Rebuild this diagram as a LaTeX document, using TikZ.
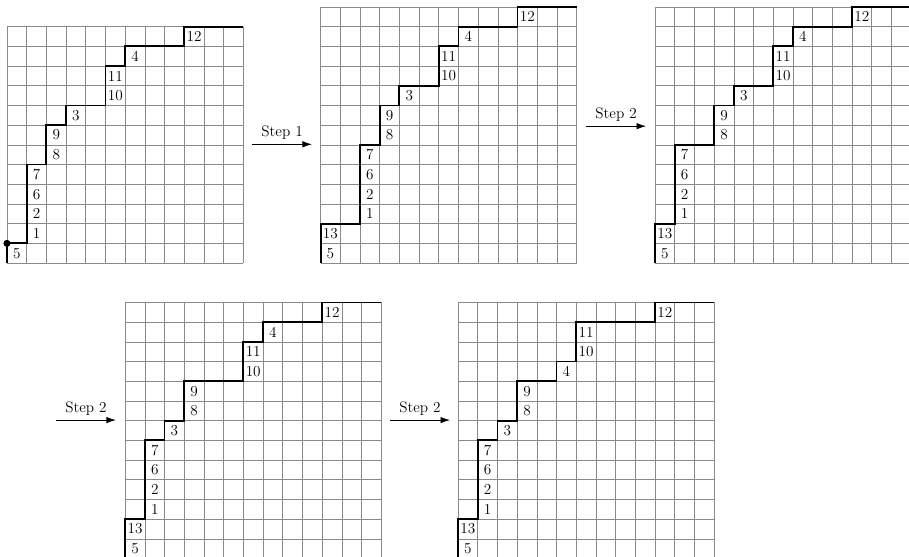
\documentclass[tikz,border=0pt]{standalone}
\usepackage{tikz}
\usetikzlibrary{arrows.meta}
\definecolor{GridGray}{HTML}{8A8A8A}
\definecolor{PathInk}{HTML}{000000}
\tikzset{
  gridline/.style={GridGray,line width=0.5pt},
  stair/.style={PathInk,line width=1.3pt},
  cellnum/.style={inner sep=0pt,font=\fontsize{11}{13}\selectfont},
  startdot/.style={circle,fill=PathInk,inner sep=0pt,minimum size=1.8mm},
  stepflow/.style={-{Latex[length=2.4mm,width=1.6mm]},line width=0.5pt},
  steplabel/.style={above,font=\fontsize{11}{13}\selectfont},
}

\begin{document}
\begin{tikzpicture}[x=.5cm,y=.5cm]
    \useasboundingbox (-0.355,-14.87) rectangle (45.79,13.355);
    % initial path
    \begin{scope}
      \draw[gridline,step=.5cm] (0,0) grid (12,12);
      \draw[stair] (0,0) |- (1,1) |- (2,5) |- (3,7) |- (5,8) |- (6,10) |- (9,11) |- (12,12);
      \node[startdot] (g1start) at (0,1) {};
      \foreach \cx/\cy/\t in {0/0/5,1/1/1,1/2/2,1/3/6,1/4/7,2/5/8,2/6/9,3/7/3,5/8/10,5/9/11,6/10/4,9/11/12}
        \node[cellnum] (g1n\t) at (\cx+.5,\cy+.5) {\t};
    \end{scope}
    % after step 1
    \begin{scope}[shift={(15.92,0)}]
      \draw[gridline,step=.5cm] (0,0) grid (13,13);
      \draw[stair] (0,0) |- (2,2) |- (3,6) |- (4,8) |- (6,9) |- (7,11) |- (10,12) |- (13,13);
      \foreach \cx/\cy/\t in {0/0/5,0/1/13,2/2/1,2/3/2,2/4/6,2/5/7,3/6/8,3/7/9,4/8/3,6/9/10,6/10/11,7/11/4,10/12/12}
        \node[cellnum] (g2n\t) at (\cx+.5,\cy+.5) {\t};
    \end{scope}
    \begin{scope}[shift={(32.9,0)}]
      \draw[gridline,step=.5cm] (0,0) grid (13,13);
      \draw[stair] (0,0) |- (1,2) |- (3,6) |- (4,8) |- (6,9) |- (7,11) |- (10,12) |- (13,13);
      \foreach \cx/\cy/\t in {0/0/5,0/1/13,1/2/1,1/3/2,1/4/6,1/5/7,3/6/8,3/7/9,4/8/3,6/9/10,6/10/11,7/11/4,10/12/12}
        \node[cellnum] (g3n\t) at (\cx+.5,\cy+.5) {\t};
    \end{scope}
    % second row
    \begin{scope}[shift={(6,-15)}]
      \draw[gridline,step=.5cm] (0,0) grid (13,13);
      \draw[stair] (0,0) |- (1,2) |- (2,6) |- (3,7) |- (6,9) |- (7,11) |- (10,12) |- (13,13);
      \foreach \cx/\cy/\t in {0/0/5,0/1/13,1/2/1,1/3/2,1/4/6,1/5/7,2/6/3,3/7/8,3/8/9,6/9/10,6/10/11,7/11/4,10/12/12}
        \node[cellnum] (g4n\t) at (\cx+.5,\cy+.5) {\t};
    \end{scope}
    \begin{scope}[shift={(22.9,-15)}]
      \draw[gridline,step=.5cm] (0,0) grid (13,13);
      \draw[stair] (0,0) |- (1,2) |- (2,6) |- (3,7) |- (5,9) |- (6,10) |- (10,12) |- (13,13);
      \foreach \cx/\cy/\t in {0/0/5,0/1/13,1/2/1,1/3/2,1/4/6,1/5/7,2/6/3,3/7/8,3/8/9,5/9/4,6/10/10,6/11/11,10/12/12}
        \node[cellnum] (g5n\t) at (\cx+.5,\cy+.5) {\t};
    \end{scope}
    % step arrows
    \coordinate (s1a) at (12.45,6.03);
    \coordinate (s1b) at (15.48,6.03);
    \coordinate (s2a) at (29.4,6.95);
    \coordinate (s2b) at (32.44,6.95);
    \coordinate (s3a) at (2.49,-7.97);
    \coordinate (s3b) at (5.53,-7.97);
    \coordinate (s4a) at (19.44,-7.97);
    \coordinate (s4b) at (22.49,-7.97);
    \draw[stepflow] (s1a) -- node[steplabel] {Step 1} (s1b);
    \draw[stepflow] (s2a) -- node[steplabel] {Step 2} (s2b);
    \draw[stepflow] (s3a) -- node[steplabel] {Step 2} (s3b);
    \draw[stepflow] (s4a) -- node[steplabel] {Step 2} (s4b);
  \end{tikzpicture}
\end{document}
